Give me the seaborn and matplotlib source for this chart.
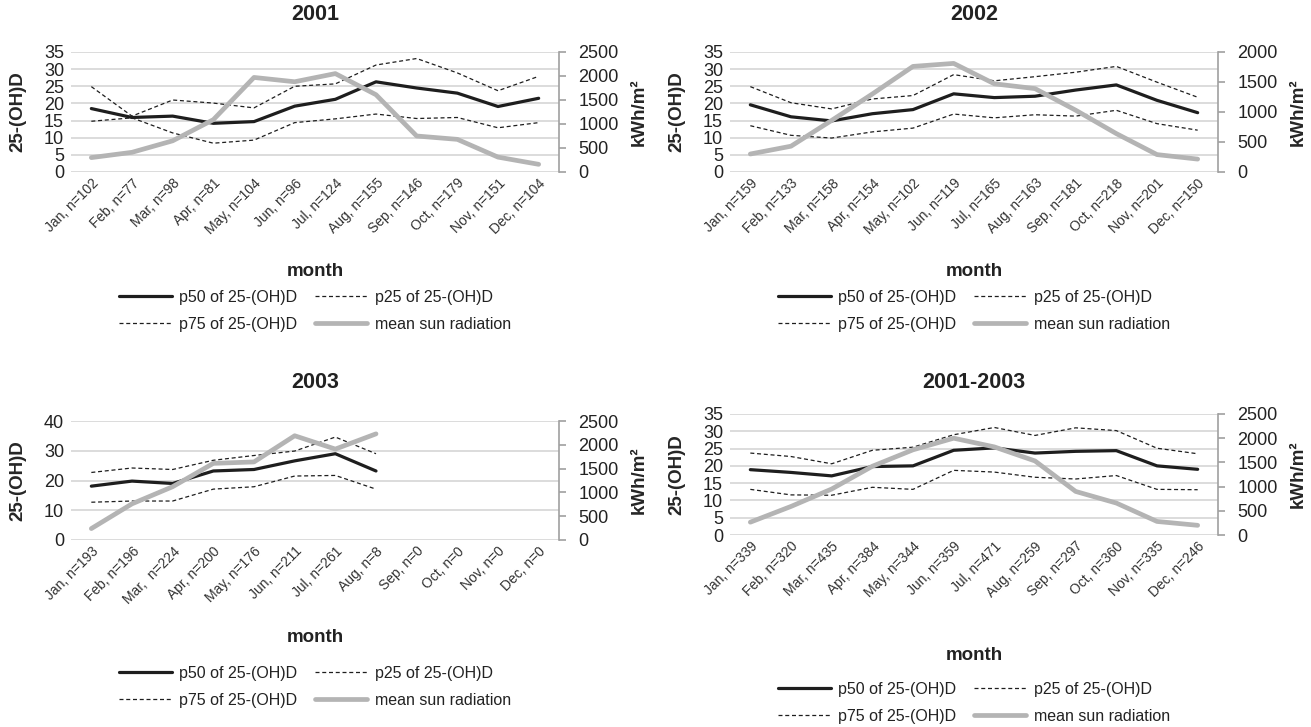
import numpy as np
import pandas as pd
import matplotlib
matplotlib.use("Agg")
import matplotlib.pyplot as plt
import seaborn as sns

# ---------------------------------------------------------------- data
months = ["Jan", "Feb", "Mar", "Apr", "May", "Jun",
          "Jul", "Aug", "Sep", "Oct", "Nov", "Dec"]

n_2001 = [102, 77, 98, 81, 104, 96, 124, 155, 146, 179, 151, 104]
n_2002 = [159, 133, 158, 154, 102, 119, 165, 163, 181, 218, 201, 150]
n_2003 = [193, 196, 224, 200, 176, 211, 261, 8, 0, 0, 0, 0]
n_all = [339, 320, 435, 384, 344, 359, 471, 259, 297, 360, 335, 246]

p50_2001 = [18.5, 15.9, 16.3, 14.2, 14.7, 19.2, 21.2, 26.3, 24.5, 23.0, 19.1, 21.5]
p25_2001 = [14.8, 15.8, 11.4, 8.4, 9.3, 14.4, 15.5, 16.9, 15.6, 15.9, 12.9, 14.4]
p75_2001 = [24.9, 16.3, 21.0, 20.1, 18.7, 25.0, 25.7, 31.2, 33.1, 28.9, 23.7, 27.9]
sun_2001 = [300, 410, 650, 1090, 1970, 1880, 2050, 1610, 750, 680, 310, 160]

p50_2002 = [19.6, 16.1, 14.9, 17.0, 18.2, 22.8, 21.7, 22.1, 23.9, 25.4, 20.9, 17.3]
p25_2002 = [13.5, 10.7, 9.9, 11.7, 12.8, 16.9, 15.8, 16.7, 16.3, 18.0, 14.1, 12.2]
p75_2002 = [24.9, 20.2, 18.4, 21.3, 22.3, 28.4, 26.6, 27.8, 29.1, 30.8, 26.2, 21.8]
sun_2002 = [300, 430, 860, 1300, 1760, 1810, 1470, 1390, 1030, 640, 290, 215]

nan = np.nan
p50_2003 = [18.1, 19.8, 19.0, 23.2, 23.7, 26.6, 29.0, 23.2, nan, nan, nan, nan]
p25_2003 = [12.7, 13.1, 13.1, 17.1, 17.9, 21.5, 21.7, 17.1, nan, nan, nan, nan]
p75_2003 = [22.7, 24.2, 23.7, 26.8, 28.4, 29.9, 34.6, 29.0, nan, nan, nan, nan]
sun_2003 = [240, 760, 1120, 1610, 1640, 2190, 1910, 2230, nan, nan, nan, nan]

p50_all = [18.9, 18.1, 17.1, 19.8, 20.0, 24.5, 25.2, 23.7, 24.2, 24.4, 20.0, 19.0]
p25_all = [13.2, 11.6, 11.5, 13.8, 13.2, 18.7, 18.2, 16.7, 16.2, 17.2, 13.2, 13.1]
p75_all = [23.7, 22.7, 20.6, 24.5, 25.4, 29.0, 31.1, 28.8, 31.0, 30.2, 25.1, 23.5]
sun_all = [265, 590, 950, 1420, 1760, 2000, 1820, 1530, 900, 660, 280, 200]

# ---------------------------------------------------------------- style
sns.set_theme(style="white")
plt.rcParams["font.family"] = ["Liberation Sans", "DejaVu Sans"]
plt.rcParams["text.color"] = "#222222"

W, H = 1311, 727
fig = plt.figure(figsize=(W / 100, H / 100), dpi=100)


def rect(left, right, top, bottom):
    return [left / W, 1 - bottom / H, (right - left) / W, (bottom - top) / H]


def tick_labels(ns, double_space=()):
    out = []
    for i, (m, n) in enumerate(zip(months, ns)):
        sep = ",  " if i in double_space else ", "
        out.append(f"{m}{sep}n={n}")
    return out


panels = [
    dict(title="2001", labels=tick_labels(n_2001), p50=p50_2001, p25=p25_2001,
         p75=p75_2001, sun=sun_2001, ymax=35, ystep=5, rmax=2500,
         box=(71, 559, 52, 172), title_y=15, xlabel_y=272, legend_y=311),
    dict(title="2002", labels=tick_labels(n_2002), p50=p50_2002, p25=p25_2002,
         p75=p75_2002, sun=sun_2002, ymax=35, ystep=5, rmax=2000,
         box=(730, 1218, 52, 172), title_y=15, xlabel_y=272, legend_y=311),
    dict(title="2003", labels=tick_labels(n_2003, double_space=(2,)), p50=p50_2003,
         p25=p25_2003, p75=p75_2003, sun=sun_2003, ymax=40, ystep=10, rmax=2500,
         box=(71, 559, 421, 540), title_y=383, xlabel_y=637, legend_y=687),
    dict(title="2001-2003", labels=tick_labels(n_all), p50=p50_all, p25=p25_all,
         p75=p75_all, sun=sun_all, ymax=35, ystep=5, rmax=2500,
         box=(730, 1218, 414, 535), title_y=383, xlabel_y=655, legend_y=703),
]

BLACK = "#1e1e1e"
GREY = "#b4b4b4"
DASH = (0, (3.2, 2.2))

for p in panels:
    left, right, top, bottom = p["box"]
    ax = fig.add_axes(rect(left, right, top, bottom))
    df = pd.DataFrame({"pos": np.arange(12), "p50": p["p50"], "p25": p["p25"],
                       "p75": p["p75"], "sun": p["sun"]})

    sns.lineplot(data=df, x="pos", y="p50", ax=ax, color=BLACK, lw=2.3,
                 label="p50 of 25-(OH)D", legend=False)
    sns.lineplot(data=df, x="pos", y="p25", ax=ax, color=BLACK, lw=0.9,
                 linestyle=DASH, label="p25 of 25-(OH)D", legend=False)
    sns.lineplot(data=df, x="pos", y="p75", ax=ax, color=BLACK, lw=0.9,
                 linestyle=DASH, label="p75 of 25-(OH)D", legend=False)

    ax2 = ax.twinx()
    sns.lineplot(data=df, x="pos", y="sun", ax=ax2, color=GREY, lw=3.4,
                 label="mean sun radiation", legend=False)

    ax.set_xlim(-0.5, 11.5)
    ax.set_ylim(0, p["ymax"])
    ax2.set_ylim(0, p["rmax"])
    ax.set_yticks(np.arange(0, p["ymax"] + 1, p["ystep"]))
    ax2.set_yticks(np.arange(0, p["rmax"] + 1, 500))
    ax.set_xticks(np.arange(12))
    ax.set_xticklabels(p["labels"], rotation=45, ha="right",
                       rotation_mode="anchor", fontsize=10, color="#333333")

    ax.grid(axis="y", color="#d9d9d9", lw=1.3)
    ax.grid(axis="x", visible=False)
    ax2.grid(False)
    ax.set_axisbelow(True)
    for s in ax.spines.values():
        s.set_visible(False)
    for name, s in ax2.spines.items():
        s.set_visible(name == "right")
    ax2.spines["right"].set_color("#a0a0a0")
    ax2.spines["right"].set_linewidth(1.2)

    ax.tick_params(axis="y", length=0, pad=5, labelsize=13, labelcolor="#222222")
    ax.tick_params(axis="x", length=0, pad=3)
    ax2.tick_params(axis="y", length=5, width=1.2, color="#a0a0a0", pad=9,
                    labelsize=13, labelcolor="#222222", direction="out")

    ax.set_xlabel("")
    ax.set_ylabel("25-(OH)D", fontsize=13.5, fontweight="bold")
    ax.yaxis.set_label_coords(-0.092, 0.5)
    ax2.set_ylabel("kWh/m²", fontsize=13.5, fontweight="bold")
    ax2.yaxis.set_label_coords(1.148, 0.5)

    cx = (left + right) / 2
    fig.text(cx / W, 1 - p["title_y"] / H, p["title"], ha="center", va="center",
             fontsize=15.5, fontweight="bold")
    fig.text(cx / W, 1 - p["xlabel_y"] / H, "month", ha="center", va="center",
             fontsize=13.5, fontweight="bold")

    lines = ax.get_lines()[:3] + ax2.get_lines()[:1]
    h_p50, h_p25, h_p75, h_sun = lines
    fig.legend([h_p50, h_p75, h_p25, h_sun],
               [h_p50.get_label(), h_p75.get_label(), h_p25.get_label(), h_sun.get_label()],
               loc="center", bbox_to_anchor=(cx / W, 1 - p["legend_y"] / H),
               ncol=2, frameon=False, fontsize=11.5, handlelength=3.3,
               handletextpad=0.45, columnspacing=1.1, labelspacing=0.75)

fig.savefig("out.png", dpi=100)
